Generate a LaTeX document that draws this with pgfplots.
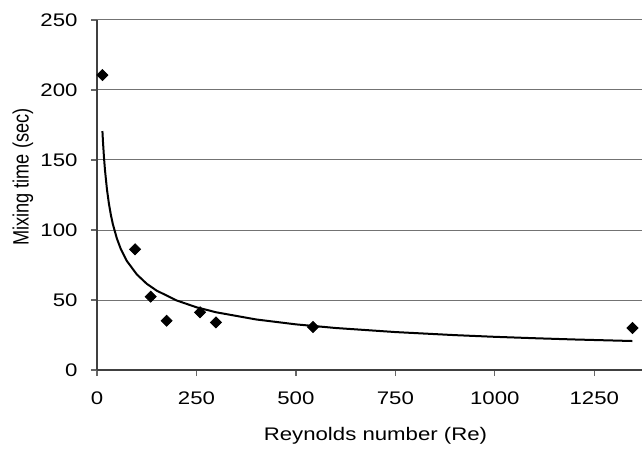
\documentclass[border=0pt]{standalone}
\usepackage{fontspec}
\setmainfont{Liberation Sans}
\usepackage{pgfplots}
\pgfplotsset{compat=1.18}

% measured points
\pgfplotstableread{
x     y
13.6  210.7
95.6  86.2
135   52.4
175   35.2
259   41.2
299   34.0
543   30.7
1346  30.0
}\measured

% power-law trend line
\pgfplotstableread{
x     y
13.6  170.7
15    163.2
17.5  152.0
20    143.0
25    129.1
30    118.7
35    110.6
40    104.0
50    93.9
60    86.3
75    77.9
100   68.3
125   61.6
150   56.7
200   49.7
250   44.8
300   41.2
400   36.1
500   32.6
600   30.0
750   27.1
900   24.9
1000  23.7
1100  22.7
1200  21.8
1346  20.7
}\trend

\begin{document}
\begin{tikzpicture}
\begin{axis}[
  scale only axis,
  width=272.5pt, height=175pt,
  xmin=0, xmax=1370, ymin=0, ymax=250,
  xtick={0,250,...,1250}, ytick={0,50,...,250},
  axis x line*=bottom, axis y line*=left,
  axis line style={black!75, line width=0.6pt},
  tick align=outside, major tick length=3pt,
  tick style={black!60, line width=0.6pt},
  ymajorgrids, grid style={black!55, line width=0.5pt},
  tick label style={font=\fontsize{9.1}{11}\selectfont, xscale=1.22},
  /pgf/number format/assume math mode=true,
  /pgf/number format/set thousands separator={},
  xticklabel style={yshift=-4.5pt},
  yticklabel style={xshift=-2pt},
  label style={font=\fontsize{9.1}{11}\selectfont},
  xlabel={Reynolds number (Re)},
  ylabel={Mixing time (sec)},
  xlabel style={at={(axis description cs:0.511,-0.189)}, anchor=center, xscale=1.22},
  ylabel style={at={(axis description cs:-0.136,0.551)}, anchor=center, yscale=1.22},
  clip=false,
]
\addplot[only marks, mark=square*, mark options={rotate=45}, mark size=1.95pt, black] table[x=x,y=y] {\measured};
\addplot[no marks, black, line width=1pt] table[x=x,y=y] {\trend};
\end{axis}
\pgfresetboundingbox
\path (current axis.south west) ++(-48.5pt,-40pt) coordinate (bl);
\path (current axis.north east) ++(0.5pt,10pt) coordinate (tr);
\path (bl) rectangle (tr);
\end{tikzpicture}
\end{document}
